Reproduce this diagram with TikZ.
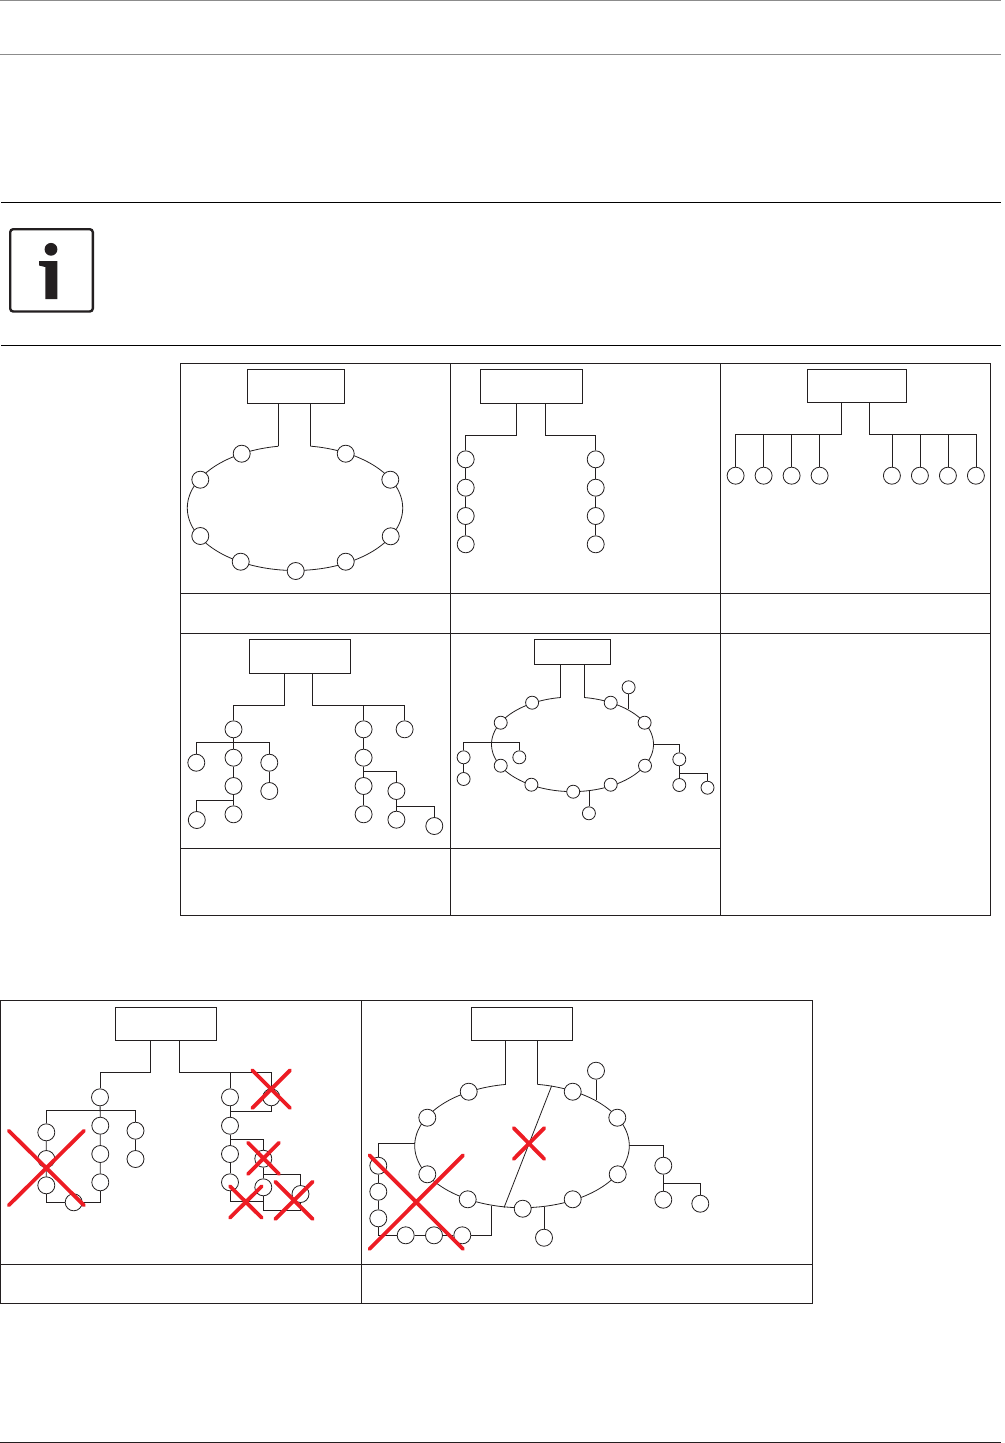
\documentclass[tikz,border=0pt]{standalone}
\usepackage{xcolor}
\usepackage{tikz}
\definecolor{inkline}{HTML}{231F20}
\definecolor{crossred}{HTML}{ED1C24}
\definecolor{rulegray}{HTML}{8C8C8C}
\tikzset{
  panel/.style={draw=inkline,line width=0.8pt,fill=white,rectangle,inner sep=0pt},
  stn/.style={draw=inkline,line width=0.8pt,fill=white,circle,inner sep=0pt,minimum size=17pt},
  stnsmall/.style={stn,minimum size=13pt},
  link/.style={draw=inkline,line width=0.8pt},
  redcross/.style={draw=crossred,line width=3.8pt,line cap=round}
}
% ring with a gap at its top: centre, radii, start and end angle
\newcommand{\ringline}[6]{\draw[link] plot[domain=#5:#6,samples=140] ({#1+#3*cos(\x)},{#2+#4*sin(\x)});}
\begin{document}
\begin{tikzpicture}[x=1pt,y=-1pt]
\useasboundingbox (0,0) rectangle (1004,1443);

% page rules and the info sign
\draw[rulegray,line width=0.9pt] (0,0.5) -- (1001,0.5) (0,54.5) -- (1001,54.5);
\draw[black,line width=0.9pt] (1,202.3) -- (1001,202.3) (1,345.5) -- (1001,345.5);
\draw[inkline,line width=0.9pt] (0,1442) -- (1001,1442);
\draw[inkline,line width=2.4pt,rounded corners=3pt] (10.2,229.2) rectangle (92.8,311.5);
\fill[inkline] (51,249.3) circle (6.4pt);
\fill[inkline] (39,261) -- (57.3,261) -- (57.3,299) -- (45.3,299) -- (45.3,267) -- (39,265.5) -- cycle;

% first table
\draw[link] (180.5,363.7) rectangle (990.5,915.2);
\draw[link] (450.5,363.7) -- (450.5,915.2) (720.5,363.7) -- (720.5,915.2);
\draw[link] (180.5,593.3) -- (990.5,593.3) (180.5,633.3) -- (990.5,633.3) (180.5,848.3) -- (720.5,848.3);

% ring
\ringline{295}{508}{107.7}{62.5}{278.2}{621.1}
\node[panel,minimum width=97pt,minimum height=34pt] (boxA) at (295.8,386.3) {};
\coordinate (legAl) at (278.3,446.3);
\coordinate (legAr) at (310.3,446.1);
\draw[link] (boxA.south -| legAl) -- (legAl) (boxA.south -| legAr) -- (legAr);
\foreach \x/\y [count=\i] in {241.7/453.7,200.3/479.7,200.3/536,240.7/561.7,295.7/571,345.7/561.7,390.7/536.3,390.3/479.7,345.7/453.7}
  \node[stn] (a\i) at (\x,\y) {};

% two lines
\node[panel,minimum width=102.4pt,minimum height=34pt] (boxB) at (531.5,386.3) {};
\coordinate (legBl) at (516.3,435.3);
\coordinate (legBr) at (545.3,435.3);
\foreach \y [count=\i] in {459.3,487.7,516,544.3}{
  \node[stn] (bl\i) at (465.7,\y) {};
  \node[stn] (br\i) at (595.7,\y) {};
}
\draw[link] (boxB.south -| legBl) -- (legBl) -| (bl1);
\draw[link] (boxB.south -| legBr) -- (legBr) -| (br1);
\draw[link] (bl1) -- (bl2) -- (bl3) -- (bl4);
\draw[link] (br1) -- (br2) -- (br3) -- (br4);

% stars
\node[panel,minimum width=99.4pt,minimum height=33pt] (boxC) at (857,385.8) {};
\coordinate (legCl) at (841.3,434.3);
\coordinate (legCr) at (869.3,434.3);
\foreach \x [count=\i] in {735.6,763.6,791.6,819.6,891.9,919.9,947.9,975.9}
  \node[stn] (c\i) at (\x,475.7) {};
\draw[link] (boxC.south -| legCl) -- (legCl) -| (c1);
\draw[link] (boxC.south -| legCr) -- (legCr) -| (c8);
\foreach \i in {2,3,4} \draw[link] (c\i) -- (c\i |- legCl);
\foreach \i in {5,6,7} \draw[link] (c\i) -- (c\i |- legCr);

% tree
\node[panel,minimum width=101.4pt,minimum height=34pt] (boxD) at (300,656.3) {};
\coordinate (legDl) at (284.6,705.3);
\coordinate (legDr) at (312.5,705.3);
\foreach \x/\y [count=\i] in {233.5/729.3,196.3/762.7,233.5/757.7,233.5/786,233.5/814.3,269.3/762.7,269.3/791,196.8/820,363.6/729.3,363.6/757.7,363.6/786,363.6/814.3,404.6/729.3,396.4/791,396.4/819.7,434.3/826}
  \node[stn] (d\i) at (\x,\y) {};
\coordinate (jD1) at (233.5,742.7);
\coordinate (jD2) at (233.5,800.3);
\coordinate (jD3) at (363.6,771.3);
\coordinate (jD4) at (396.4,806.7);
\draw[link] (boxD.south -| legDl) -- (legDl) -| (d1);
\draw[link] (boxD.south -| legDr) -- (legDr) -| (d13);
\draw[link] (d9) -- (d9 |- legDr);
\draw[link] (d2) |- (jD1) -| (d6);
\draw[link] (d1) -- (d3) -- (d4) -- (d5) (d6) -- (d7);
\draw[link] (d8) |- (jD2);
\draw[link] (d9) -- (d10) -- (d11) -- (d12);
\draw[link] (jD3) -| (d14) (d14) -- (d15);
\draw[link] (jD4) -| (d16);

% ring with spurs
\ringline{572.5}{744.3}{81}{47.3}{278.4}{621.4}
\node[panel,minimum width=76pt,minimum height=25pt] (boxE) at (572.4,651.8) {};
\coordinate (legEl) at (560.4,697.5);
\coordinate (legEr) at (584.3,697.5);
\draw[link] (boxE.south -| legEl) -- (legEl) (boxE.south -| legEr) -- (legEr);
\foreach \x/\y [count=\i] in {532.1/702.7,500.7/722.7,500.7/765.7,531.4/784.7,573.2/791.7,610.7/784.7,645/765.7,644.6/722.7,610.7/702.7,463.6/757.3,463.6/779,519.3/757.3,679.3/759.3,679.3/785,707.5/787.7,628.6/687.3,588.9/813.3}
  \node[stnsmall] (e\i) at (\x,\y) {};
\coordinate (jE1) at (491.5,742.7);
\coordinate (jE2) at (653.6,744.3);
\coordinate (jE3) at (679.3,773.3);
\coordinate (jE4) at (628.6,709.3);
\coordinate (jE5) at (588.9,791);
\draw[link] (e10) |- (jE1) -| (e12) (e10) -- (e11);
\draw[link] (jE2) -| (e13) (e13) -- (e14);
\draw[link] (jE3) -| (e15);
\draw[link] (e16) -- (jE4) (e17) -- (jE5);

% second table
\draw[link] (0.7,1000.3) rectangle (812.7,1303.3);
\draw[link] (361.7,1000.3) -- (361.7,1303.3);
\draw[link] (0.7,1264.3) -- (812.7,1264.3);

% tree with failures
\node[panel,minimum width=101.4pt,minimum height=33pt] (boxF) at (166,1023.8) {};
\coordinate (legFl) at (150.3,1072.3);
\coordinate (legFr) at (179.7,1072.3);
\foreach \x/\y [count=\i] in {100/1097.3,46.3/1132.3,46.3/1159,46.3/1185.3,100.3/1125.7,100.3/1154,100.3/1182.3,135.5/1130.7,135.5/1159,73.7/1202.3,230/1097.3,230/1125.7,230/1154,230/1182.3,271.3/1097.3,263.3/1158.7,263.3/1187.3,300.5/1194}
  \node[stn] (f\i) at (\x,\y) {};
\coordinate (jF1) at (100.3,1110.3);
\coordinate (jF3) at (230.3,1111.3);
\coordinate (jF4) at (230.3,1139.3);
\coordinate (jF5) at (263.3,1174.7);
\coordinate (jF6) at (263.3,1210);
\coordinate (jF7) at (263.3,1201.3);
\draw[link] (boxF.south -| legFl) -- (legFl) -| (f1);
\draw[link] (boxF.south -| legFr) -- (legFr) -| (f15);
\draw[link] (f11) -- (f11 |- legFr);
\draw[link] (f2) |- (jF1) -| (f8);
\draw[link] (f2) -- (f3) -- (f4) (f1) -- (f5) -- (f6) -- (f7) (f8) -- (f9);
\draw[link] (f4) |- (f10) (f10) -| (f7);
\draw[link] (f11) -- (f12) -- (f13) -- (f14);
\draw[link] (f15) |- (jF3);
\draw[link] (jF4) -| (f16) (f16) -- (f17);
\draw[link] (jF5) -| (f18);
\draw[link] (f18) |- (jF6) -- (f17);
\draw[link] (f14) |- (jF7);

% ring with failures
\ringline{522}{1145.7}{107.3}{62}{278.2}{621.3}
\node[panel,minimum width=101.4pt,minimum height=33pt] (boxG) at (522,1023.8) {};
\coordinate (legGl) at (505.7,1084.4);
\coordinate (legGr) at (537.3,1084.4);
\draw[link] (boxG.south -| legGl) -- (legGl) (boxG.south -| legGr) -- (legGr);
\foreach \x/\y [count=\i] in {468.7/1091.7,427.3/1117.7,427.3/1174.3,467.7/1199.3,522.7/1208.7,572.7/1199.3,617.7/1174.3,617.3/1117.7,572.7/1091.7,378.3/1165.7,378.3/1191.7,378.3/1218.3,405.7/1235.3,434/1235.3,462.3/1235.3,663.3/1165.7,663.3/1199.7,700.3/1203.7,596/1070.7,544/1237.7}
  \node[stn] (g\i) at (\x,\y) {};
\coordinate (jG1) at (414.7,1143.3);
\coordinate (jG2) at (491.3,1206.3);
\coordinate (jG3) at (629.3,1145.3);
\coordinate (jG4) at (663.3,1183.3);
\coordinate (jG5) at (596,1100);
\coordinate (jG6) at (544,1207);
\coordinate (jG7) at (551.7,1085.7);
\coordinate (jG8) at (504,1207.7);
\coordinate (jG9) at (378.3,1235.3);
\draw[link] (jG1) -| (g10) (g10) -- (g11) -- (g12) -- (jG9) -- (g13) (g13) -- (g14) -- (g15);
\draw[link] (g15) -| (jG2);
\draw[link] (jG3) -| (g16) (g16) -- (g17);
\draw[link] (jG4) -| (g18);
\draw[link] (g19) -- (jG5) (g20) -- (jG6);
\draw[link] (jG7) -- (jG8);

% red crosses
\foreach \xa/\ya/\xb/\yb in {8.7/1130.7/84/1205.3,252.3/1070.3/290/1108,248/1142.7/279/1174,230/1186.3/261.7/1217.7,275.3/1181.7/312.7/1219,513.7/1128/544.3/1159,369.5/1155.3/463/1249}
  \draw[redcross] (\xa,\ya) -- (\xb,\yb) (\xb,\ya) -- (\xa,\yb);
\end{tikzpicture}
\end{document}
